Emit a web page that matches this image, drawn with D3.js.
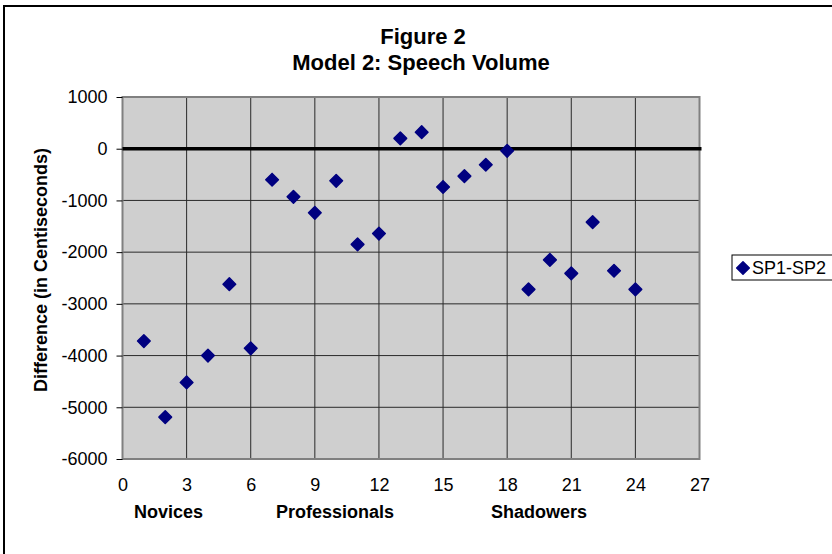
<!DOCTYPE html>
<html>
<head>
<meta charset="utf-8">
<script src="https://cdn.jsdelivr.net/npm/d3@7"></script>
<style>
  body { margin: 0; background: #fff; }
  text { font-family: "Liberation Sans", Arial, sans-serif; }
</style>
</head>
<body>
<svg id="chart" width="832" height="554"></svg>
<script>
// data
const subjects = d3.range(1, 25);
const diffs = [
  -3720, -5190, -4520, -4000, -2620, -3860,
  -600, -930, -1240, -620, -1850, -1640,
  200, 320, -740, -530, -310, -40,
  -2720, -2150, -2410, -1420, -2360, -2720
];
const xTicks = [0, 3, 6, 9, 12, 15, 18, 21, 24, 27];
const yTicks = [1000, 0, -1000, -2000, -3000, -4000, -5000, -6000];
const groupLabels = ["Novices", "Professionals", "Shadowers"];
const seriesName = "SP1-SP2";

const data = subjects.map((s, i) => ({ x: s, y: diffs[i] }));

const svg = d3.select("#chart");
const font = "'Liberation Sans', Arial, sans-serif";

// outer chart frame (runs off the right and bottom edges)
svg.append("rect")
  .attr("x", 4).attr("y", 6)
  .attr("width", 900).attr("height", 600)
  .attr("fill", "#fff").attr("stroke", "#000").attr("stroke-width", 2);

const plot = { left: 122.5, right: 699.5, top: 97, bottom: 459 };

const x = d3.scaleLinear().domain([0, 27]).range([plot.left, plot.right]);
const y = d3.scaleLinear().domain([-6000, 1000]).range([plot.bottom, plot.top]);

// plot background
svg.append("rect")
  .attr("x", plot.left).attr("y", plot.top)
  .attr("width", plot.right - plot.left).attr("height", plot.bottom - plot.top)
  .attr("fill", "#cfcfcf");

// gridlines
svg.append("g")
  .selectAll("line")
  .data(xTicks.slice(1, -1))
  .join("line")
  .attr("x1", d => x(d)).attr("x2", d => x(d))
  .attr("y1", plot.top).attr("y2", plot.bottom)
  .attr("stroke", "#2a2a2a").attr("stroke-width", 1);

svg.append("g")
  .selectAll("line")
  .data(yTicks.filter(d => d !== 0 && d !== -6000 && d !== 1000))
  .join("line")
  .attr("x1", plot.left).attr("x2", plot.right)
  .attr("y1", d => y(d)).attr("y2", d => y(d))
  .attr("stroke", "#2a2a2a").attr("stroke-width", 1);

// plot border
svg.append("rect")
  .attr("x", plot.left).attr("y", plot.top)
  .attr("width", plot.right - plot.left).attr("height", plot.bottom - plot.top)
  .attr("fill", "none").attr("stroke", "#808080").attr("stroke-width", 2);

// y axis
const yAxis = d3.axisLeft(y).tickValues(yTicks).tickSize(6).tickPadding(9)
  .tickFormat(d => String(d));
svg.append("g")
  .attr("transform", `translate(${plot.left},0)`)
  .call(yAxis)
  .call(g => g.select(".domain").remove())
  .call(g => g.selectAll("line").attr("stroke", "#000"))
  .call(g => g.selectAll("text").attr("font-size", 18).attr("fill", "#000")
    .style("font-family", font));

// x axis labels along the bottom
const xAxis = d3.axisBottom(x).tickValues(xTicks).tickSize(0).tickPadding(19)
  .tickFormat(d => String(d));
svg.append("g")
  .attr("transform", `translate(0,${plot.bottom})`)
  .call(xAxis)
  .call(g => g.select(".domain").remove())
  .call(g => g.selectAll("text").attr("font-size", 18).attr("fill", "#000")
    .style("font-family", font));

// zero line (x axis crossing)
svg.append("line")
  .attr("x1", plot.left).attr("x2", plot.right + 2)
  .attr("y1", y(0)).attr("y2", y(0))
  .attr("stroke", "#000").attr("stroke-width", 3.5);

// points
const diamond = d3.symbol().type(d3.symbolSquare).size(80);
svg.append("g")
  .selectAll("path")
  .data(data)
  .join("path")
  .attr("d", diamond)
  .attr("transform", d => `translate(${x(d.x)},${y(d.y)}) rotate(45)`)
  .attr("fill", "#000080")
  .attr("stroke", "#000080").attr("stroke-width", 1.5)
  .attr("stroke-linejoin", "round");

// titles
svg.append("text")
  .attr("x", 423).attr("y", 44)
  .attr("text-anchor", "middle")
  .attr("font-size", 22).attr("font-weight", "bold")
  .text("Figure 2");
svg.append("text")
  .attr("x", 421).attr("y", 70)
  .attr("text-anchor", "middle")
  .attr("font-size", 22).attr("font-weight", "bold")
  .text("Model 2: Speech Volume");

// y axis title
svg.append("text")
  .attr("transform", "translate(47,270) rotate(-90)")
  .attr("text-anchor", "middle")
  .attr("font-size", 18).attr("font-weight", "bold")
  .text("Difference (in Centiseconds)");

// group labels under the x axis
const groupX = [168.5, 335, 539];
svg.append("g")
  .selectAll("text")
  .data(groupLabels)
  .join("text")
  .attr("x", (d, i) => groupX[i])
  .attr("y", 518)
  .attr("text-anchor", "middle")
  .attr("font-size", 18).attr("font-weight", "bold")
  .text(d => d);

// legend
const legend = svg.append("g").attr("transform", "translate(732,255)");
legend.append("rect")
  .attr("width", 110).attr("height", 25)
  .attr("fill", "#fff").attr("stroke", "#000").attr("stroke-width", 1);
legend.append("path")
  .attr("d", diamond)
  .attr("transform", "translate(11,13) rotate(45)")
  .attr("fill", "#000080")
  .attr("stroke", "#000080").attr("stroke-width", 1.5)
  .attr("stroke-linejoin", "round");
legend.append("text")
  .attr("x", 20).attr("y", 19)
  .attr("font-size", 18)
  .text(seriesName);
</script>
</body>
</html>
